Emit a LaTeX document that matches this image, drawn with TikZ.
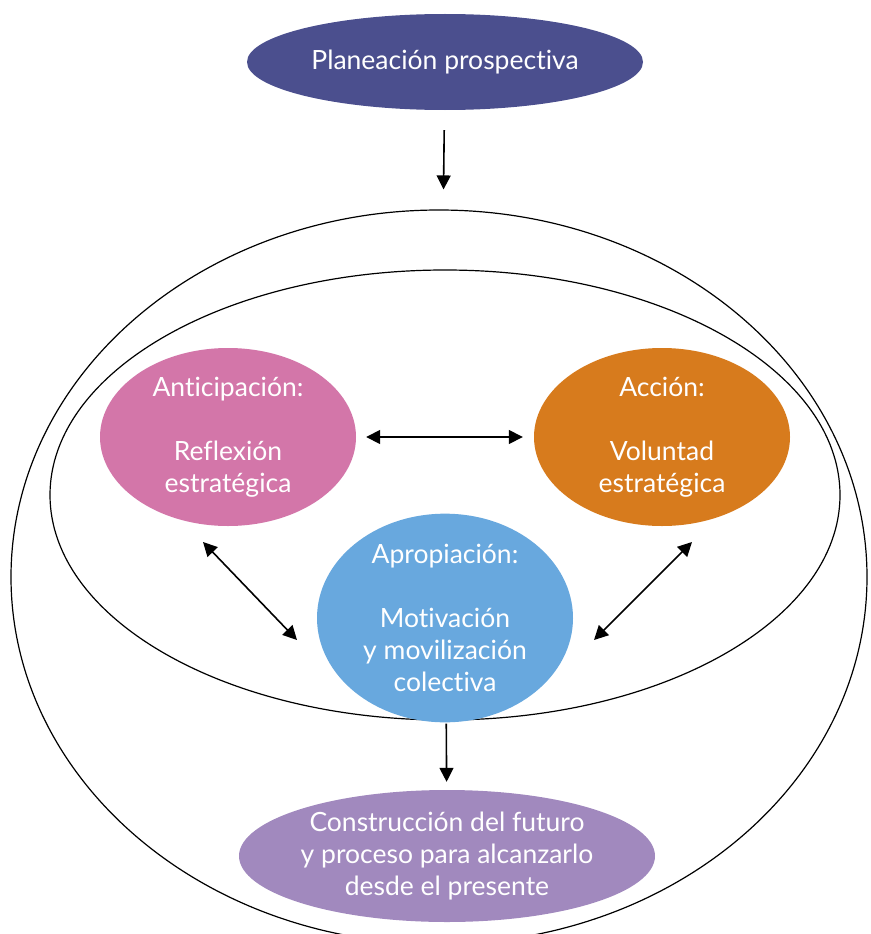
\documentclass[tikz,border=0pt]{standalone}
\usepackage{fontspec}
\setmainfont{Lato}[Ligatures=CommonOff]
\usepackage{tikz}
\usetikzlibrary{shapes,arrows.meta,positioning}
\definecolor{planblue}{HTML}{4B4F8E}
\definecolor{anticpink}{HTML}{D376A9}
\definecolor{accorange}{HTML}{D77B1D}
\definecolor{apropblue}{HTML}{68A8DE}
\definecolor{futpurple}{HTML}{A189BE}

\begin{document}
\begin{tikzpicture}[x=1pt,y=-1pt,
    blob/.style={ellipse, inner sep=0pt, text=white, align=center, font=\fontsize{26.5}{32}\selectfont},
    ring/.style={ellipse, draw, line width=1.2pt},
    link/.style={line width=1.6pt, -{Triangle[length=14pt,width=14pt]}},
    both/.style={line width=1.6pt, {Triangle[length=14pt,width=14pt]}-{Triangle[length=14pt,width=14pt]}}]
\clip (0,0) rectangle (870,934);
\node[ring, minimum width=856, minimum height=734] (frame) at (439,577) {};
\node[ring, minimum width=790, minimum height=450] (inner) at (445,495) {};
\node[blob, fill=planblue, minimum width=396, minimum height=96] (plan) at (445,62) {Planeación prospectiva};
\node[blob, fill=anticpink, minimum width=256, minimum height=178] (antic) at (228,437) {Anticipación:\\[32pt]Reflexión\\estratégica};
\node[blob, fill=accorange, minimum width=256, minimum height=178] (accion) at (662,437) {Acción:\\[32pt]Voluntad\\estratégica};
\node[blob, fill=apropblue, minimum width=256, minimum height=170] (aprop) at (445,618) {Apropiación:\\[32pt]Motivación\\y movilización\\colectiva};
\node[blob, fill=futpurple, minimum width=416, minimum height=132] (futuro) at (447,856) {Construcción del futuro\\y proceso para alcanzarlo\\desde el presente};
\coordinate (anticend) at (203,542);
\coordinate (apropleft) at (297,640);
\coordinate (accionend) at (692,542);
\coordinate (apropright) at (594,640);
\draw[link, shorten <=20pt, shorten >=20pt] (plan) -- (frame);
\draw[both, shorten <=10pt, shorten >=11pt] (antic) -- (accion);
\draw[both] (anticend) -- (apropleft);
\draw[both] (accionend) -- (apropright);
\draw[link, shorten <=3pt, shorten >=8pt] (inner) -- (futuro);
\end{tikzpicture}
\end{document}
